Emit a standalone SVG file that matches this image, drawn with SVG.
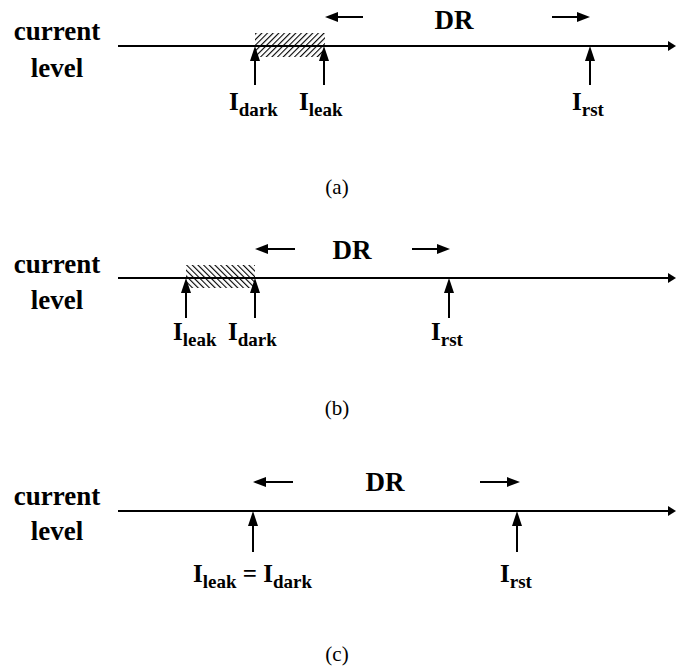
<svg xmlns="http://www.w3.org/2000/svg" width="676" height="671" viewBox="0 0 676 671">
<style>
.lab{font-family:"Liberation Serif",serif;font-weight:bold;font-size:27px;fill:#000}
.dr{font-family:"Liberation Serif",serif;font-weight:bold;font-size:27px;fill:#000}
.i{font-family:"Liberation Serif",serif;font-weight:bold;font-size:25px;fill:#000}
.s{font-size:19px}
.cap{font-family:"Liberation Serif",serif;font-size:21px;fill:#000}
.ax{stroke:#000;stroke-width:2.2;fill:none}
.sh{stroke:#000;stroke-width:2;fill:none}
.hd{fill:#000}
</style>
<defs>
<pattern id="hA" patternUnits="userSpaceOnUse" width="4" height="4" patternTransform="rotate(45)">
<line x1="0" y1="0" x2="0" y2="4" stroke="#000" stroke-width="2.2"/>
</pattern>
<pattern id="hB" patternUnits="userSpaceOnUse" width="4" height="4" patternTransform="rotate(-45)">
<line x1="0" y1="0" x2="0" y2="4" stroke="#000" stroke-width="2.2"/>
</pattern>
</defs>

<!-- Panel (a) -->
<g id="panel-a">
<text class="lab" x="57" y="40" text-anchor="middle">current</text>
<text class="lab" x="57" y="77" text-anchor="middle">level</text>
<rect id="a-band" x="255" y="33" width="70" height="24" fill="url(#hA)"/>
<text class="dr" x="454" y="29" text-anchor="middle">DR</text>
</g>
<g id="a-labels">
<g id="a-idark"><text class="i" x="229" y="110">I<tspan class="s" dy="6">dark</tspan></text></g>
<g id="a-ileak"><text class="i" x="299" y="110">I<tspan class="s" dy="6">leak</tspan></text></g>
<g id="a-irst"><text class="i" x="572" y="110">I<tspan class="s" dy="6">rst</tspan></text></g>
</g>
<g id="a-connectors">
<line class="ax" x1="118" y1="46" x2="670" y2="46"/><polygon class="hd" points="676,46 668,41 668,51"/>
<line class="sh" x1="255" y1="85" x2="255" y2="58"/><polygon class="hd" points="255,46 250,61 260,61"/>
<line class="sh" x1="324" y1="85" x2="324" y2="58"/><polygon class="hd" points="324,46 319,61 329,61"/>
<line class="sh" x1="590" y1="85" x2="590" y2="58"/><polygon class="hd" points="590,46 585,61 595,61"/>
<line class="sh" x1="336" y1="17" x2="363" y2="17"/><polygon class="hd" points="325,17 338,12 338,22"/>
<line class="sh" x1="552" y1="17" x2="579" y2="17"/><polygon class="hd" points="590,17 577,12 577,22"/>
</g>
<text class="cap" x="337" y="194" text-anchor="middle">(a)</text>

<!-- Panel (b) -->
<g id="panel-b">
<text class="lab" x="57" y="273" text-anchor="middle">current</text>
<text class="lab" x="57" y="309" text-anchor="middle">level</text>
<rect id="b-band" x="186" y="265" width="69" height="23" fill="url(#hB)"/>
<text class="dr" x="352" y="259" text-anchor="middle">DR</text>
</g>
<g id="b-labels">
<g id="b-ileak"><text class="i" x="173" y="340">I<tspan class="s" dy="6">leak</tspan></text></g>
<g id="b-idark"><text class="i" x="228" y="340">I<tspan class="s" dy="6">dark</tspan></text></g>
<g id="b-irst"><text class="i" x="431" y="340">I<tspan class="s" dy="6">rst</tspan></text></g>
</g>
<g id="b-connectors">
<line class="ax" x1="118" y1="278" x2="670" y2="278"/><polygon class="hd" points="676,278 668,273 668,283"/>
<line class="sh" x1="186" y1="318" x2="186" y2="290"/><polygon class="hd" points="186,278 181,293 191,293"/>
<line class="sh" x1="255" y1="318" x2="255" y2="290"/><polygon class="hd" points="255,278 250,293 260,293"/>
<line class="sh" x1="449" y1="318" x2="449" y2="290"/><polygon class="hd" points="449,278 444,293 454,293"/>
<line class="sh" x1="266" y1="249" x2="295" y2="249"/><polygon class="hd" points="255,249 268,244 268,254"/>
<line class="sh" x1="412" y1="249" x2="438" y2="249"/><polygon class="hd" points="450,249 437,244 437,254"/>
</g>
<text class="cap" x="337" y="415" text-anchor="middle">(b)</text>

<!-- Panel (c) -->
<g id="panel-c">
<text class="lab" x="57" y="505" text-anchor="middle">current</text>
<text class="lab" x="57" y="540" text-anchor="middle">level</text>
<text class="dr" x="385" y="491" text-anchor="middle">DR</text>
</g>
<g id="c-labels">
<g id="c-eq"><text class="i" x="193" y="582">I<tspan class="s" dy="6">leak</tspan><tspan dy="-6"> = I</tspan><tspan class="s" dy="6">dark</tspan></text></g>
<g id="c-irst"><text class="i" x="500" y="582">I<tspan class="s" dy="6">rst</tspan></text></g>
</g>
<g id="c-connectors">
<line class="ax" x1="118" y1="511" x2="670" y2="511"/><polygon class="hd" points="676,511 668,506 668,516"/>
<line class="sh" x1="253" y1="552" x2="253" y2="523"/><polygon class="hd" points="253,511 248,526 258,526"/>
<line class="sh" x1="517" y1="552" x2="517" y2="523"/><polygon class="hd" points="517,511 512,526 522,526"/>
<line class="sh" x1="264" y1="482" x2="293" y2="482"/><polygon class="hd" points="253,482 266,477 266,487"/>
<line class="sh" x1="480" y1="482" x2="508" y2="482"/><polygon class="hd" points="520,482 507,477 507,487"/>
</g>
<text class="cap" x="337" y="661" text-anchor="middle">(c)</text>
</svg>
